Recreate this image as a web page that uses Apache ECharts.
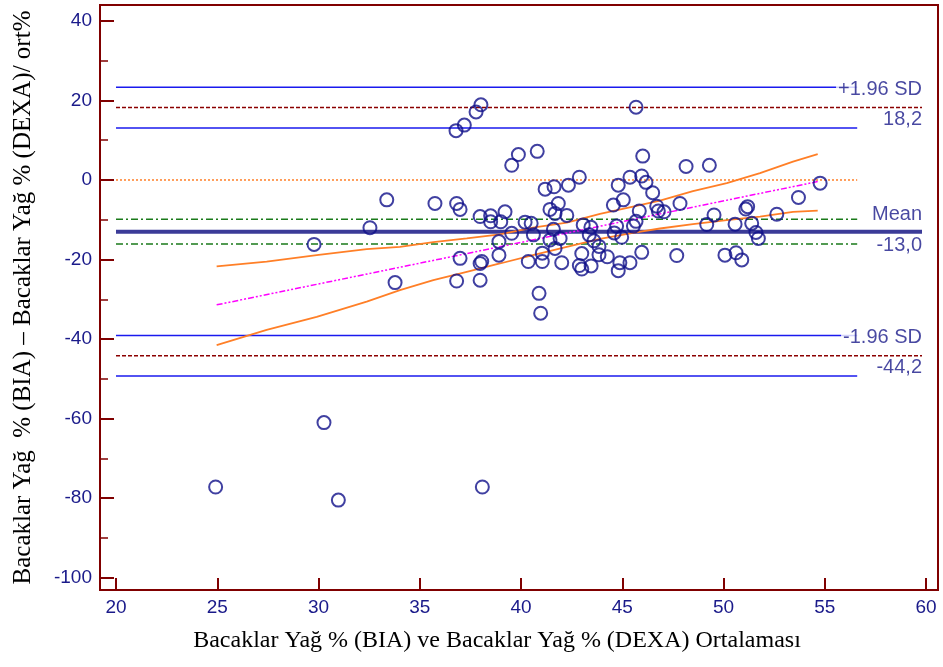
<!DOCTYPE html>
<html>
<head>
<meta charset="utf-8">
<script src="https://cdn.jsdelivr.net/npm/echarts@6/dist/echarts.min.js"></script>
<style>
  html, body { margin: 0; padding: 0; background: #ffffff; }
  #chart { width: 943px; height: 667px; }
</style>
</head>
<body>
<div id="chart"></div>
<script>
// Bland-Altman plot: leg fat % (BIA vs DEXA), difference as % of the mean

// Mean of the two methods (x) and percentage difference (y) for each subject
const avgPct = [
  38.02, 37.78, 37.20, 36.79, 45.68,
  39.87, 39.54, 40.80, 46.01, 48.15, 49.30, 42.88, 45.38, 45.96, 41.19, 41.63, 42.34, 44.80, 46.17, 46.50,
  54.77, 53.70, 33.37, 35.75, 36.82, 36.99, 39.21, 41.43, 41.84, 41.68, 42.26, 44.56, 45.05, 45.84, 46.70,
  46.78, 47.06, 47.85, 51.19, 51.10, 52.63, 49.53,
  37.98, 38.50, 38.50, 39.00, 40.20, 40.50, 41.60, 39.54, 40.61, 32.54, 29.78, 38.91, 41.43, 41.93, 41.68,
  43.07, 43.45, 43.37, 43.60, 43.85, 44.72, 45.55, 45.68, 44.60, 44.97, 49.17, 50.57, 51.39, 51.60, 51.72,
  38.91, 36.99, 38.06, 37.98, 40.36, 41.05, 41.05, 42.01, 43.00, 43.85, 44.26, 42.88, 43.00, 43.46, 44.88,
  45.38, 44.80, 45.96, 47.69, 50.07, 50.62, 50.90, 33.78, 36.82, 37.98, 40.89, 40.97,
  24.92, 30.27, 30.98, 38.09
];
const diffPct = [
  18.9, 17.1, 13.8, 12.4, 18.3,
  6.4, 3.7, 7.2, 6.0, 3.4, 3.7, 0.7, 0.7, 1.0, -2.3, -1.7, -1.3, -1.3, -0.6, -3.2,
  -0.8, -4.4, -5.0, -5.9, -5.9, -7.4, -8.0, -7.4, -5.9, -8.4, -8.9, -6.3, -5.0, -7.8, -6.6,
  -7.8, -8.0, -5.9, -6.7, -7.3, -8.6, -8.8,
  -9.2, -9.0, -10.5, -10.5, -10.6, -10.9, -12.4, -13.4, -13.8, -12.0, -16.2, -15.5, -15.1, -14.7, -17.2,
  -11.3, -11.9, -13.8, -15.3, -16.7, -11.6, -11.6, -10.4, -13.3, -14.4, -11.2, -11.1, -10.9, -13.2, -14.7,
  -18.9, -19.7, -20.5, -21.0, -20.5, -18.4, -20.5, -20.8, -18.5, -18.8, -19.3, -21.5, -22.4, -21.6, -20.8,
  -20.8, -22.8, -18.2, -19.0, -18.9, -18.3, -20.1, -25.8, -25.4, -25.2, -28.5, -33.5,
  -77.2, -61.0, -80.5, -77.2
];

// Agreement statistics
const meanDiff = -13.0;
const meanCI = [-9.9, -16.1];
const upperLoA = 18.2;
const upperLoACI = [23.3, 13.1];
const lowerLoA = -44.2;
const lowerLoACI = [-39.1, -49.3];
const zeroLine = 0;

// Horizontal extents of the reference lines
const refStart = 20;
const ciEnd = 56.6;
const loaEnd = 59.8;

// Regression of difference on mean, with its confidence band
const regX = [24.97, 54.65];
const regY = [-31.4, -0.4];
const bandUpperX = [24.97, 27.44, 29.91, 32.38, 34.02, 35.67, 37.32, 38.96, 40.59, 42.26, 43.90, 45.53, 46.86, 48.49, 50.16, 51.80, 53.43, 54.65];
const bandUpperY = [-21.7, -20.55, -18.9, -17.4, -16.8, -15.6, -14.7, -13.7, -12.0, -10.7, -8.55, -6.7, -5.2, -2.8, -0.8, 1.7, 4.6, 6.5];
const bandLowerX = [24.97, 27.44, 29.91, 32.38, 34.02, 35.67, 37.32, 38.96, 40.59, 42.26, 43.90, 45.53, 46.86, 48.49, 50.16, 51.80, 53.43, 54.65];
const bandLowerY = [-41.5, -37.7, -34.4, -30.6, -27.7, -25.2, -23.1, -21.0, -18.9, -16.8, -14.8, -13.3, -12.2, -11.1, -10.1, -9.2, -8.0, -7.7];

// Axis ticks
const xTicks = [20, 25, 30, 35, 40, 45, 50, 55, 60];
const yMajorTicks = [-100, -80, -60, -40, -20, 0, 20, 40];
const yMinorTicks = [-90, -70, -50, -30, -10, 10, 30];

const xTitle = 'Bacaklar Yağ % (BIA) ve Bacaklar Yağ % (DEXA) Ortalaması';
const yTitle = 'Bacaklar Yağ  % (BIA) – Bacaklar Yağ % (DEXA)/ ort%';

const frameColor = '#800000';
const labelColor = '#1a1a8a';
const sansFont = '"Liberation Sans", Arial, sans-serif';
const serifFont = '"Liberation Serif", "Times New Roman", serif';

const zip = (xs, ys) => xs.map((x, i) => [x, ys[i]]);
const hline = (y, x0, x1) => [[x0, y], [x1, y]];

function refLine(name, data, style) {
  return {
    name, type: 'line', data, showSymbol: false, silent: true,
    animation: false, lineStyle: style, z: 2
  };
}

const chart = echarts.init(document.getElementById('chart'), null, { renderer: 'canvas' });

chart.setOption({
  animation: false,
  backgroundColor: '#ffffff',
  grid: {
    left: 100, right: 5, top: 5, bottom: 77,
    show: true, borderColor: frameColor, borderWidth: 2
  },
  xAxis: {
    type: 'value', min: 19.21, max: 60.59,
    name: xTitle, nameLocation: 'middle', nameGap: 39,
    nameTextStyle: { fontFamily: serifFont, fontSize: 24, color: '#000000', padding: [0, 44, 0, 0] },
    axisLine: { onZero: false, lineStyle: { color: frameColor, width: 2 } },
    axisTick: { inside: true, length: 12, customValues: xTicks, lineStyle: { color: frameColor, width: 2 } },
    axisLabel: { customValues: xTicks, color: labelColor, fontFamily: sansFont, fontSize: 19, margin: 8 },
    splitLine: { show: false }
  },
  yAxis: [
    {
      type: 'value', min: -103.1, max: 44.0,
      name: yTitle, nameLocation: 'middle', nameGap: 64, nameRotate: 90,
      nameTextStyle: { fontFamily: serifFont, fontSize: 25, color: '#000000' },
      axisLine: { onZero: false, lineStyle: { color: frameColor, width: 2 } },
      axisTick: { inside: true, length: 14, customValues: yMajorTicks, lineStyle: { color: frameColor, width: 2 } },
      axisLabel: { customValues: yMajorTicks, color: labelColor, fontFamily: sansFont, fontSize: 19, margin: 8 },
      splitLine: { show: false }
    },
    {
      type: 'value', min: -103.1, max: 44.0, position: 'left',
      axisLine: { show: false },
      axisTick: { inside: true, length: 8, customValues: yMinorTicks, lineStyle: { color: frameColor, width: 1.5 } },
      axisLabel: { show: false },
      splitLine: { show: false }
    }
  ],
  series: [
    refLine('upperLoA CI high', hline(upperLoACI[0], refStart, ciEnd), { color: '#1a1aee', width: 1.5, type: 'solid' }),
    refLine('upperLoA CI low', hline(upperLoACI[1], refStart, ciEnd), { color: '#1a1aee', width: 1.5, type: 'solid' }),
    refLine('lowerLoA CI high', hline(lowerLoACI[0], refStart, ciEnd), { color: '#1a1aee', width: 1.5, type: 'solid' }),
    refLine('lowerLoA CI low', hline(lowerLoACI[1], refStart, ciEnd), { color: '#1a1aee', width: 1.5, type: 'solid' }),
    refLine('upperLoA', hline(upperLoA, refStart, loaEnd), { color: '#8b0000', width: 1.5, type: [4, 2] }),
    refLine('lowerLoA', hline(lowerLoA, refStart, loaEnd), { color: '#8b0000', width: 1.5, type: [4, 2] }),
    refLine('zero', hline(zeroLine, refStart, ciEnd), { color: '#ff7f27', width: 1.5, type: [2, 2] }),
    refLine('mean CI high', hline(meanCI[0], refStart, ciEnd), { color: '#1a7a1a', width: 1.5, type: [7, 3, 2, 3] }),
    refLine('mean CI low', hline(meanCI[1], refStart, ciEnd), { color: '#1a7a1a', width: 1.5, type: [7, 3, 2, 3] }),
    refLine('mean', hline(meanDiff, refStart, loaEnd), { color: '#3b3b98', width: 4, type: 'solid' }),
    refLine('regression', zip(regX, regY), { color: '#ff00ff', width: 1.5, type: [6, 2, 2, 2, 2, 2] }),
    refLine('band upper', zip(bandUpperX, bandUpperY), { color: '#ff7f27', width: 1.8, type: 'solid' }),
    refLine('band lower', zip(bandLowerX, bandLowerY), { color: '#ff7f27', width: 1.8, type: 'solid' }),
    {
      name: 'subjects', type: 'scatter', data: zip(avgPct, diffPct),
      symbol: 'circle', symbolSize: 13, z: 5,
      itemStyle: { color: 'rgba(0,0,0,0)', borderColor: '#10108a', borderWidth: 2 }
    },
    {
      name: 'reference labels', type: 'scatter', symbolSize: 0, z: 6, silent: true,
      label: { show: true, color: labelColor, fontFamily: sansFont, fontSize: 20, align: 'right' },
      data: [
        { value: [loaEnd, upperLoA], label: { formatter: '+1.96 SD', position: 'top', distance: 8, backgroundColor: '#ffffff', padding: [0, 0, 0, 2] } },
        { value: [loaEnd, upperLoA], label: { formatter: '18,2', position: 'bottom', distance: 2 } },
        { value: [loaEnd, meanDiff], label: { formatter: 'Mean', position: 'top', distance: 7 } },
        { value: [loaEnd, meanDiff], label: { formatter: '-13,0', position: 'bottom', distance: 4 } },
        { value: [loaEnd, lowerLoA], label: { formatter: '-1.96 SD', position: 'top', distance: 8, backgroundColor: '#ffffff', padding: [0, 0, 0, 2] } },
        { value: [loaEnd, lowerLoA], label: { formatter: '-44,2', position: 'bottom', distance: 2 } }
      ]
    }
  ]
});
</script>
</body>
</html>
